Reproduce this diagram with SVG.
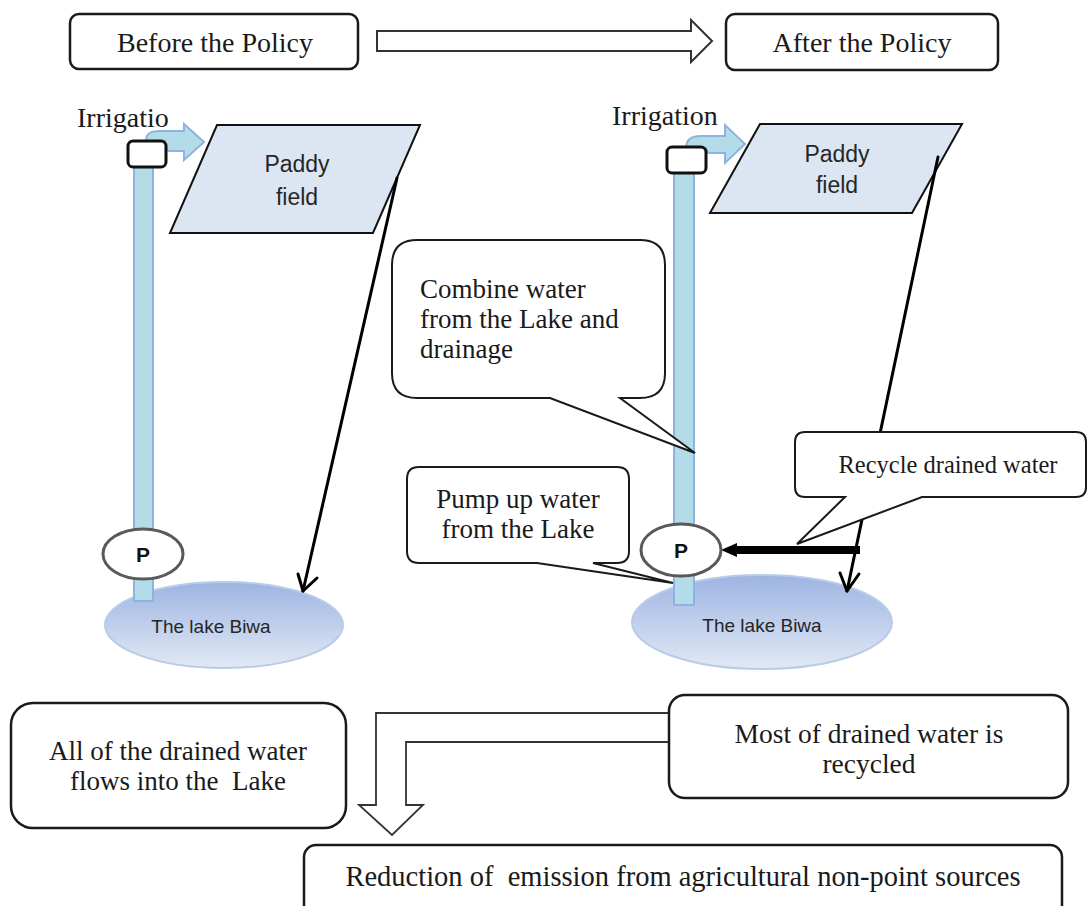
<svg xmlns="http://www.w3.org/2000/svg" width="1088" height="906" viewBox="0 0 1088 906">
<defs>
<linearGradient id="lake" x1="0" y1="0" x2="0" y2="1">
<stop offset="0" stop-color="#9db4e2"/>
<stop offset="1" stop-color="#e2e9f5"/>
</linearGradient>
<style>
.box{fill:#fff;stroke:#1a1a1a;stroke-width:2.5}
.call{fill:#fff;stroke:#1a1a1a;stroke-width:2}
.serif{font-family:"Liberation Serif","Times New Roman",serif;fill:#1a1a1a}
.sans{font-family:"Liberation Sans",Arial,sans-serif;fill:#262626}
.paddy{fill:#dce6f2;stroke:#111;stroke-width:2}
.pipe{fill:#b4dbe8;stroke:#8db3e2;stroke-width:2}
.valve{fill:#fff;stroke:#111;stroke-width:3}
.pump{fill:#fff;stroke:#595959;stroke-width:3}
.lake{fill:url(#lake);stroke:#b8cbe9;stroke-width:2}
.flow{fill:none;stroke:#000;stroke-width:3;stroke-linecap:round;stroke-linejoin:round}
.block{fill:#fff;stroke:#333;stroke-width:2}
</style>
</defs>

<g id="before-policy">
<rect class="box" x="70" y="14" width="288" height="55" rx="9"/>
<text class="serif" x="215" y="52" font-size="28" text-anchor="middle">Before the Policy</text>
</g>
<g id="after-policy">
<rect class="box" x="726" y="14" width="272" height="56" rx="9"/>
<text class="serif" x="862" y="52" font-size="28" text-anchor="middle">After the Policy</text>
</g>

<g id="left-lake">
<ellipse class="lake" cx="224" cy="625" rx="119" ry="43"/>
<text class="sans" x="211" y="633" font-size="19" text-anchor="middle">The lake Biwa</text>
</g>
<g id="right-lake">
<ellipse class="lake" cx="762" cy="622" rx="130" ry="47"/>
<text class="sans" x="762" y="632" font-size="19" text-anchor="middle">The lake Biwa</text>
</g>

<g id="left-irrigation">
<rect class="pipe" x="134" y="166" width="19" height="435"/>
<path class="pipe" d="M146 141 C146 133 151 131 160 131 L184 131 L184 124 L204 142 L184 160 L184 151 L169 151 C166 151 165 148 165 141 Z"/>
<rect class="valve" x="128" y="141" width="38" height="26" rx="5"/>
<text class="serif" x="77" y="127" font-size="28">Irrigatio</text>
</g>
<g id="right-irrigation">
<rect class="pipe" x="674" y="172" width="20" height="433"/>
<path class="pipe" d="M686 148 C686 139 692 136 701 136 L725 136 L725 125 L745 144 L725 163 L725 153 L710 153 C707 153 706 151 706 148 Z"/>
<rect class="valve" x="667" y="147" width="39" height="26" rx="5"/>
<text class="serif" x="612" y="125" font-size="28">Irrigation</text>
</g>

<g id="left-paddy">
<polygon class="paddy" points="217,125 420,125 373,233 170,233"/>
<text class="sans" x="297" y="172" font-size="23" text-anchor="middle">Paddy</text>
<text class="sans" x="297" y="205" font-size="23" text-anchor="middle">field</text>
</g>
<g id="right-paddy">
<polygon class="paddy" points="760,124 962,124 912,213 710,213"/>
<text class="sans" x="837" y="162" font-size="23" text-anchor="middle">Paddy</text>
<text class="sans" x="837" y="193" font-size="23" text-anchor="middle">field</text>
</g>

<g id="connectors">
<polyline class="flow" points="397,178 303,591"/>
<polyline class="flow" points="298,574 303,591 317,578"/>
<polyline class="flow" points="938,157 847,591"/>
<polyline class="flow" points="840,573 847,591 859,574"/>
<line x1="860" y1="550" x2="734" y2="550" stroke="#000" stroke-width="8"/>
<polygon points="737,543 721,550 737,557" fill="#000"/>
<polygon class="block" points="377,31 691,31 691,20 712,41 691,62 691,51 377,51"/>
<path d="M670 713 H376 V805 H359 L392 835 L423 805 H406 V742 H670" fill="#fff" stroke="#333" stroke-width="1.8"/>
</g>

<g id="left-pump">
<ellipse class="pump" cx="143" cy="554" rx="40" ry="25"/>
<text x="143" y="562" font-family="Liberation Sans,Arial,sans-serif" font-weight="bold" font-size="21" text-anchor="middle" fill="#111">P</text>
</g>
<g id="right-pump">
<ellipse class="pump" cx="681" cy="550" rx="40" ry="26"/>
<text x="681" y="558" font-family="Liberation Sans,Arial,sans-serif" font-weight="bold" font-size="21" text-anchor="middle" fill="#111">P</text>
</g>

<g id="callout-combine">
<path class="call" d="M417 240 H640 Q665 240 665 265 V373 Q665 398 640 398 H620 L695 453 L550 398 H417 Q392 398 392 373 V265 Q392 240 417 240 Z"/>
<text class="serif" x="420" y="298" font-size="27">Combine water</text>
<text class="serif" x="420" y="328" font-size="27">from the Lake and</text>
<text class="serif" x="420" y="358" font-size="27">drainage</text>
</g>
<g id="callout-pump">
<path class="call" d="M419 467 H617 Q629 467 629 479 V551 Q629 563 617 563 H593 L673 583 L537 563 H419 Q407 563 407 551 V479 Q407 467 419 467 Z"/>
<text class="serif" x="518" y="508" font-size="27" text-anchor="middle">Pump up water</text>
<text class="serif" x="518" y="538" font-size="27" text-anchor="middle">from the Lake</text>
</g>
<g id="callout-recycle">
<path class="call" d="M805 432 H1076 Q1086 432 1086 442 V487 Q1086 497 1076 497 H922 L797 544 L845 497 H805 Q795 497 795 487 V442 Q795 432 805 432 Z"/>
<text class="serif" x="948" y="473" font-size="24.5" text-anchor="middle">Recycle drained water</text>
</g>

<g id="all-drained">
<rect class="box" x="11" y="703" width="335" height="125" rx="22"/>
<text class="serif" x="178" y="760" font-size="27" text-anchor="middle">All of the drained water</text>
<text class="serif" x="178" y="790" font-size="27" text-anchor="middle" xml:space="preserve">flows into the  Lake</text>
</g>
<g id="most-recycled">
<rect class="box" x="669" y="695" width="399" height="103" rx="16"/>
<text class="serif" x="869" y="743" font-size="27.5" text-anchor="middle">Most of drained water is</text>
<text class="serif" x="869" y="773" font-size="27.5" text-anchor="middle">recycled</text>
</g>
<g id="reduction">
<rect class="box" x="304" y="845" width="758" height="85" rx="12"/>
<text class="serif" x="683" y="886" font-size="28.5" text-anchor="middle" xml:space="preserve">Reduction of  emission from agricultural non-point sources</text>
</g>
</svg>
